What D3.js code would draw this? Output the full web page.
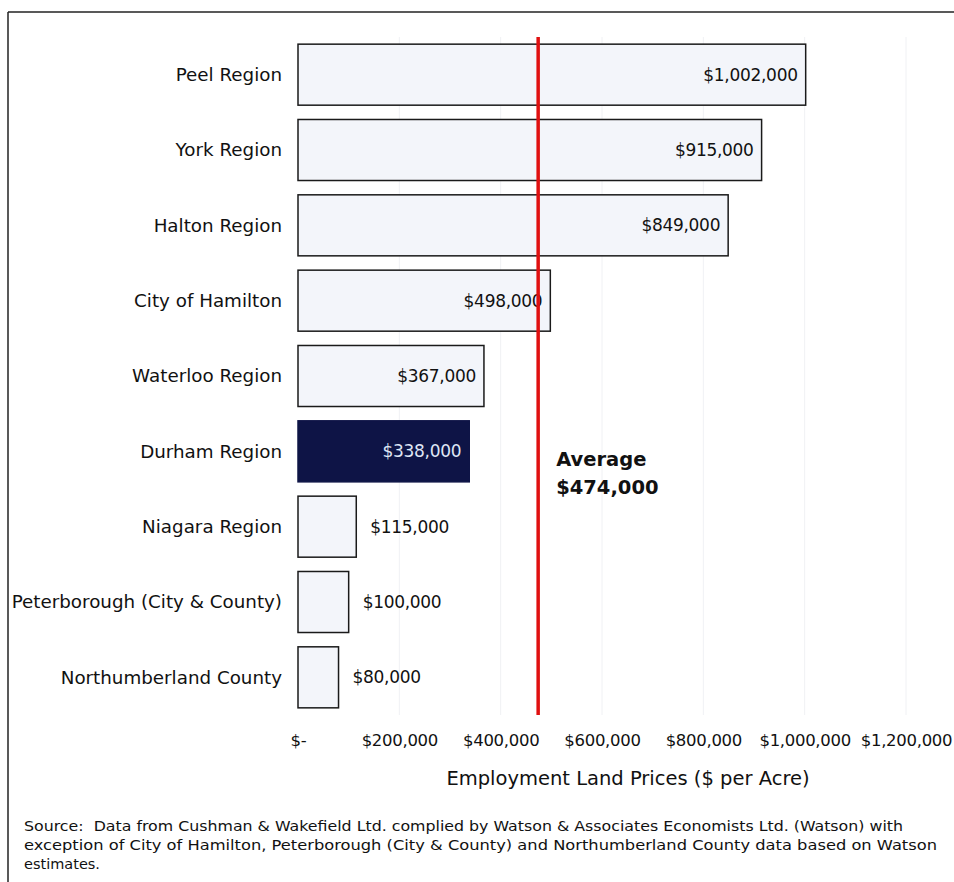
<!DOCTYPE html>
<html>
<head>
<meta charset="utf-8">
<script src="https://cdn.jsdelivr.net/npm/d3@7/dist/d3.min.js"></script>
<style>
  html, body { margin: 0; padding: 0; background: #fff; }
  svg { display: block; }
  text { font-family: "DejaVu Sans", sans-serif; fill: #111; }
</style>
</head>
<body>
<svg id="chart" width="954" height="882"></svg>
<script>
// Employment land prices by municipality ($ per acre)
const regions = [
  "Peel Region", "York Region", "Halton Region", "City of Hamilton",
  "Waterloo Region", "Durham Region", "Niagara Region",
  "Peterborough (City & County)", "Northumberland County"
];
const prices = [1002000, 915000, 849000, 498000, 367000, 338000, 115000, 100000, 80000];
const highlighted = ["Durham Region"];
const average = 474000;
const tickValues = [0, 200000, 400000, 600000, 800000, 1000000, 1200000];
const tickLabels = ["$-", "$200,000", "$400,000", "$600,000", "$800,000", "$1,000,000", "$1,200,000"];
const axisTitle = "Employment Land Prices ($ per Acre)";
const averageLabel = ["Average", "$474,000"];
const sourceLines = [
  "Source:  Data from Cushman & Wakefield Ltd. complied by Watson & Associates Economists Ltd. (Watson) with",
  "exception of City of Hamilton, Peterborough (City & County) and Northumberland County data based on Watson",
  "estimates."
];

const data = regions.map((r, i) => ({ region: r, value: prices[i] }));
const fmt = d3.format("$,");

const svg = d3.select("#chart");

// frame lines (top and left)
svg.append("line").attr("x1", 8).attr("x2", 954).attr("y1", 12).attr("y2", 12)
  .attr("stroke", "#222").attr("stroke-width", 1.5);
svg.append("line").attr("x1", 8).attr("x2", 8).attr("y1", 12).attr("y2", 882)
  .attr("stroke", "#222").attr("stroke-width", 1.5);

const x = d3.scaleLinear().domain([0, 1200000]).range([298, 906]);
const y = d3.scaleBand().domain(regions).range([37, 715]).paddingInner(0.19).paddingOuter(0.095);

// faint vertical gridlines
svg.append("g").selectAll("line").data(tickValues.slice(1)).join("line")
  .attr("x1", d => x(d)).attr("x2", d => x(d))
  .attr("y1", 37).attr("y2", 715)
  .attr("stroke", "#f0f1f4").attr("stroke-width", 1);

// bars
svg.append("g").selectAll("rect").data(data).join("rect")
  .attr("x", x(0))
  .attr("y", d => y(d.region))
  .attr("width", d => x(d.value) - x(0))
  .attr("height", y.bandwidth())
  .attr("fill", d => highlighted.includes(d.region) ? "#0e1446" : "#f3f5fa")
  .attr("stroke", d => highlighted.includes(d.region) ? "#0e1446" : "#1a1a1a")
  .attr("stroke-width", 1.5);

// value labels: inside the end of long bars, just outside short ones
const insideMin = 300000;
svg.append("g").selectAll("text").data(data).join("text")
  .attr("x", d => d.value >= insideMin ? x(d.value) - 8 : x(d.value) + 14)
  .attr("y", d => y(d.region) + y.bandwidth() / 2)
  .attr("dy", "0.35em")
  .attr("text-anchor", d => d.value >= insideMin ? "end" : "start")
  .style("font-size", "17px")
  .style("letter-spacing", "-0.3px")
  .style("fill", d => highlighted.includes(d.region) ? "#dfe6f5" : "#111")
  .text(d => fmt(d.value));

// category labels
svg.append("g").selectAll("text").data(regions).join("text")
  .attr("x", 282)
  .attr("y", d => y(d) + y.bandwidth() / 2)
  .attr("dy", "0.35em")
  .attr("text-anchor", "end")
  .style("font-size", "18.3px")
  .text(d => d);

// average line
svg.append("line")
  .attr("x1", x(average)).attr("x2", x(average))
  .attr("y1", 37).attr("y2", 715)
  .attr("stroke", "#e01010").attr("stroke-width", 3.5);

svg.append("text")
  .attr("x", x(average) + 18).attr("y", 466)
  .style("font-size", "19.5px").style("font-weight", "bold")
  .selectAll("tspan").data(averageLabel).join("tspan")
  .attr("x", x(average) + 18)
  .attr("dy", (d, i) => i === 0 ? 0 : "1.42em")
  .text(d => d);

// x axis labels (no axis line, no ticks)
const xAxis = d3.axisBottom(x).tickValues(tickValues)
  .tickFormat((d, i) => tickLabels[i]).tickSize(0).tickPadding(0);
const gx = svg.append("g").attr("transform", "translate(0,734)").call(xAxis);
gx.select(".domain").remove();
gx.selectAll("text").style("font-size", "16.5px").style("letter-spacing", "-0.3px")
  .attr("font-family", null).style("fill", "#111");

svg.append("text")
  .attr("x", 628).attr("y", 785)
  .attr("text-anchor", "middle")
  .style("font-size", "19.5px")
  .text(axisTitle);

// source note
const sourceWidths = [879, 913, null];
svg.append("g").selectAll("text").data(sourceLines).join("text")
  .attr("x", 24)
  .attr("y", (d, i) => 831 + i * 19)
  .style("font-size", "14.5px")
  .style("white-space", "pre")
  .attr("textLength", (d, i) => sourceWidths[i])
  .attr("lengthAdjust", "spacingAndGlyphs")
  .text(d => d);
</script>
</body>
</html>
